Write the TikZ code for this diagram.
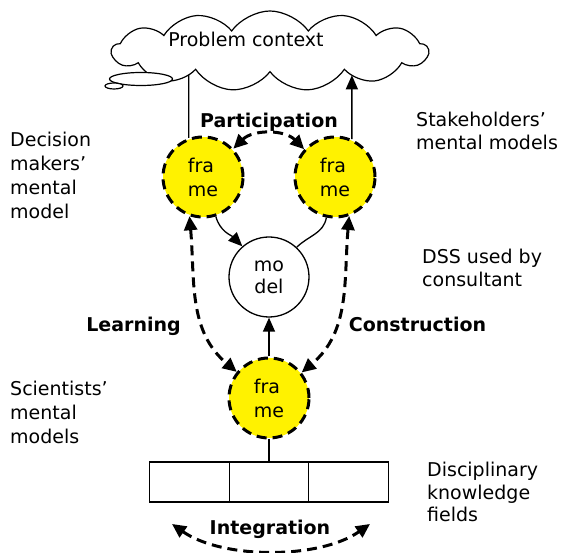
\documentclass[tikz,border=0pt]{standalone}
\usepackage{fontspec}
\setmainfont{DejaVu Sans}
\usetikzlibrary{arrows.meta,shapes.symbols,shapes.geometric,intersections}

\begin{document}
\begin{tikzpicture}[x=1pt,y=1pt]
    \tikzset{every node/.style = {font=\fontsize{19}{24}\selectfont}}
    \tikzset{framenode/.style = {shape=circle,draw,fill=yellow,line width=3pt,dash pattern=on 10pt off 6pt,minimum size=80pt,inner sep=0pt,align=left}}
    \tikzset{modelnode/.style = {shape=circle,draw,line width=1.3pt,minimum size=80pt,inner sep=0pt,align=center,font=\fontsize{19}{22}\selectfont}}
    \tikzset{kbox/.style = {shape=rectangle,draw,line width=1.3pt,minimum width=79.5pt,minimum height=40pt}}
    \tikzset{txt/.style = {align=left,inner sep=0pt,anchor=north west}}
    \tikzset{heading/.style = {font=\fontsize{19}{24}\selectfont\bfseries,inner sep=0pt,anchor=base}}
    \tikzset{edge/.style = {line width=1.3pt,> = {Triangle[length=14pt,width=12pt]}}}
    \tikzset{dashedge/.style = {line width=3pt,dash pattern=on 10pt off 6pt,> = {Triangle[length=14pt,width=13pt]}}}
    \useasboundingbox (0,0) rectangle (563,553);
    % problem context
    \node[cloud,draw,cloud puffs=13,cloud puff arc=110,aspect=4.2,minimum width=316pt,minimum height=80pt,line width=1.2pt,name path=pcb] (pc) at (270,502) {};
    \node (pct) at (246,514) {Problem context};
    \node[ellipse,draw,fill=white,line width=1.2pt,minimum width=63pt,minimum height=13pt,inner sep=0pt] (bub1) at (141,474) {};
    \node[ellipse,draw,fill=white,line width=1.2pt,minimum width=18pt,minimum height=6pt,inner sep=0pt] (bub2) at (114,467) {};
    % mental models and model
    \node[framenode] (dm) at (203,376) {fra\\me};
    \node[framenode] (sh) at (335,376) {fra\\me};
    \node[modelnode] (md) at (269,276) {mo\\del};
    \node[framenode] (sc) at (269,155) {fra\\me};
    % knowledge fields
    \node[kbox] (k1) at (189.5,71) {};
    \node[kbox] (k2) at (269,71) {};
    \node[kbox] (k3) at (348.5,71) {};
    % side texts
    \node[txt] (dmt) at (10,421) {Decision\\makers'\\mental\\model};
    \node[txt] (sct) at (10,172) {Scientists'\\mental\\models};
    \node[txt,font=\fontsize{19}{23}\selectfont] (sht) at (416,441) {Stakeholders'\\mental models};
    \node[txt,font=\fontsize{19}{22.5}\selectfont] (mdt) at (422,304) {DSS used by\\consultant};
    \node[txt,font=\fontsize{19}{22.5}\selectfont] (kt) at (427,91) {Disciplinary\\knowledge\\fields};
    \node[heading] (part) at (269,425) {Participation};
    \node[heading] (learn) at (133.5,221) {Learning};
    \node[heading] (constr) at (417.5,221) {Construction};
    \node[heading] (integr) at (270,18) {Integration};
    % connectors
    \path[name path=lv] (dm.110) -- ++(0,120);
    \path[name path=rv] (sh.66) -- ++(0,120);
    \path[name intersections={of=pcb and lv,sort by=lv,by=pcl}];
    \path[name intersections={of=pcb and rv,sort by=rv,by=pcr}];
    \draw[edge] (dm.110) -- (pcl);
    \draw[edge,->] (sh.66) -- (pcr);
    \draw[edge,->] (dm.288) to[out=-75,in=135] (md.131);
    \draw[edge] (sh.258) to[out=-100,in=45] (md.47);
    \draw[edge,->] (sc) -- (md);
    \draw[edge] (sc) -- (k2);
    \draw[dashedge,<->] (dm.43) to[bend left=45] (sh.138);
    \draw[dashedge,<->] (dm.251) to[out=-85,in=140] (sc.141);
    \draw[dashedge,<->] (sh.290) to[out=-95,in=40] (sc.38);
    \coordinate (il) at (172,29);
    \coordinate (ir) at (370,29);
    \draw[dashedge,<->] (il) to[out=-35,in=-145,looseness=0.8] (ir);
\end{tikzpicture}
\end{document}
